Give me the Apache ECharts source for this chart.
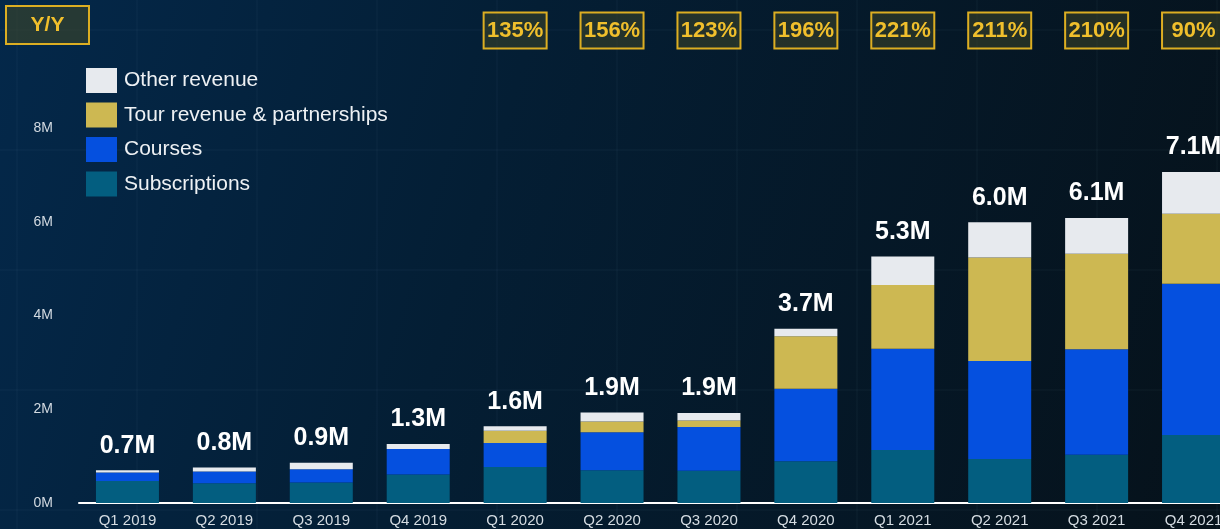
<!DOCTYPE html>
<html>
<head>
<meta charset="utf-8">
<script src="https://cdn.jsdelivr.net/npm/echarts@6/dist/echarts.min.js"></script>
<style>
  html, body { margin: 0; padding: 0; background: #041c30; overflow: hidden; }
  /* the plot runs past the right edge of the window, cutting the last bar */
  #chart { width: 1242px; height: 529px; }
</style>
</head>
<body>
<div id="chart"></div>
<script>
// Quarterly revenue by stream, in millions
const categories = ['Q1 2019', 'Q2 2019', 'Q3 2019', 'Q4 2019', 'Q1 2020', 'Q2 2020',
  'Q3 2020', 'Q4 2020', 'Q1 2021', 'Q2 2021', 'Q3 2021', 'Q4 2021'];
const subscriptions = [0.47, 0.42, 0.44, 0.61, 0.77, 0.70, 0.69, 0.89, 1.13, 0.94, 1.03, 1.45];
const courses       = [0.18, 0.25, 0.28, 0.54, 0.51, 0.81, 0.93, 1.55, 2.16, 2.09, 2.25, 3.23];
const tourRevenue   = [0.00, 0.00, 0.00, 0.00, 0.26, 0.23, 0.14, 1.12, 1.36, 2.21, 2.04, 1.49];
const otherRevenue  = [0.05, 0.09, 0.14, 0.11, 0.10, 0.19, 0.16, 0.16, 0.61, 0.75, 0.76, 0.89];
// Year-over-year growth, percent
const yoyGrowth = [null, null, null, null, 135, 156, 123, 196, 221, 211, 210, 90];
const yTicks = [0, 2, 4, 6, 8];

const totals = categories.map((_, i) =>
  Math.round((subscriptions[i] + courses[i] + tourRevenue[i] + otherRevenue[i]) * 100) / 100);

const BAR_W = 63;
const GOLD = '#f0bf2c';
const BOX_FILL = 'rgba(62,70,40,0.55)';
const FONT = '"Liberation Sans", Arial, Helvetica, sans-serif';

const chart = echarts.init(document.getElementById('chart'), null, { renderer: 'canvas' });

// faint background lattice
const lattice = [];
for (let x = 17; x < 1242; x += 120) {
  lattice.push({ type: 'line', silent: true, z: -10,
    shape: { x1: x, y1: 0, x2: x, y2: 529 },
    style: { stroke: 'rgba(140,180,200,0.035)', lineWidth: 2 } });
}
for (let y = 30; y < 529; y += 120) {
  lattice.push({ type: 'line', silent: true, z: -10,
    shape: { x1: 0, y1: y, x2: 1242, y2: y },
    style: { stroke: 'rgba(140,180,200,0.035)', lineWidth: 2 } });
}

const stackSeries = (name, data, color) => ({
  name, type: 'bar', stack: 'rev', data, barWidth: BAR_W,
  itemStyle: { color }, emphasis: { disabled: true }
});

const yoyData = [];
yoyGrowth.forEach((v, i) => { if (v != null) yoyData.push([i, 0, v]); });

chart.setOption({
  animation: false,
  backgroundColor: {
    type: 'linear', x: 0, y: 0, x2: 1, y2: 0.7,
    colorStops: [
      { offset: 0, color: '#04284a' },
      { offset: 0.4, color: '#041e34' },
      { offset: 1, color: '#06121b' }
    ]
  },
  textStyle: { fontFamily: FONT },
  graphic: lattice.concat([
    {
      type: 'group', left: 5, top: 5,
      children: [
        { type: 'rect', shape: { x: 0, y: 0, width: 83, height: 38 },
          style: { fill: 'rgba(62,70,40,0.6)', stroke: '#dcae22', lineWidth: 2 } },
        { type: 'text', x: 41.5, y: 19.5,
          style: { text: 'Y/Y', fill: GOLD, font: 'bold 21px ' + FONT,
            textAlign: 'center', textVerticalAlign: 'middle' } }
      ]
    }
  ]),
  legend: {
    orient: 'vertical', left: 81, top: 63,
    itemWidth: 31, itemHeight: 25, itemGap: 9.5,
    icon: 'rect',
    data: ['Other revenue', 'Tour revenue & partnerships', 'Courses', 'Subscriptions'],
    textStyle: { color: '#eef1f4', fontSize: 21, fontFamily: FONT, padding: [0, 0, 0, 2] },
    selectedMode: false
  },
  grid: { left: 79, top: 128, right: 0, height: 375, containLabel: false },
  xAxis: {
    type: 'category', data: categories,
    axisLine: { lineStyle: { color: '#ffffff', width: 2 } },
    axisTick: { show: false },
    axisLabel: { color: '#d5dce2', fontSize: 15, margin: 10, fontFamily: FONT }
  },
  yAxis: {
    type: 'value', min: yTicks[0], max: yTicks[yTicks.length - 1], interval: 2,
    axisLine: { show: false }, axisTick: { show: false },
    splitLine: { show: false },
    axisLabel: { color: '#d3dae1', fontSize: 14, margin: 26, fontFamily: FONT,
      formatter: v => v + 'M' }
  },
  series: [
    stackSeries('Subscriptions', subscriptions, '#035e80'),
    stackSeries('Courses', courses, '#0550df'),
    stackSeries('Tour revenue & partnerships', tourRevenue, '#cdb852'),
    Object.assign(stackSeries('Other revenue', otherRevenue, '#e7eaee'), {
      label: {
        show: true, position: 'top', distance: 12,
        color: '#ffffff', fontSize: 25, fontWeight: 'bold', fontFamily: FONT,
        formatter: p => totals[p.dataIndex].toFixed(1) + 'M'
      }
    }),
    {
      name: 'Y/Y', type: 'custom', clip: false, silent: true,
      encode: { x: 0, y: 1 },
      data: yoyData,
      renderItem: (params, api) => {
        const cx = api.coord([api.value(0), 0])[0];
        return {
          type: 'group',
          children: [
            { type: 'rect', shape: { x: cx - BAR_W / 2, y: 12.5, width: BAR_W, height: 36 },
              style: { fill: BOX_FILL, stroke: '#dcae22', lineWidth: 2 } },
            { type: 'text', x: cx, y: 31,
              style: { text: api.value(2) + '%', fill: GOLD, font: 'bold 22px ' + FONT,
                textAlign: 'center', textVerticalAlign: 'middle' } }
          ]
        };
      }
    }
  ]
});
</script>
</body>
</html>
